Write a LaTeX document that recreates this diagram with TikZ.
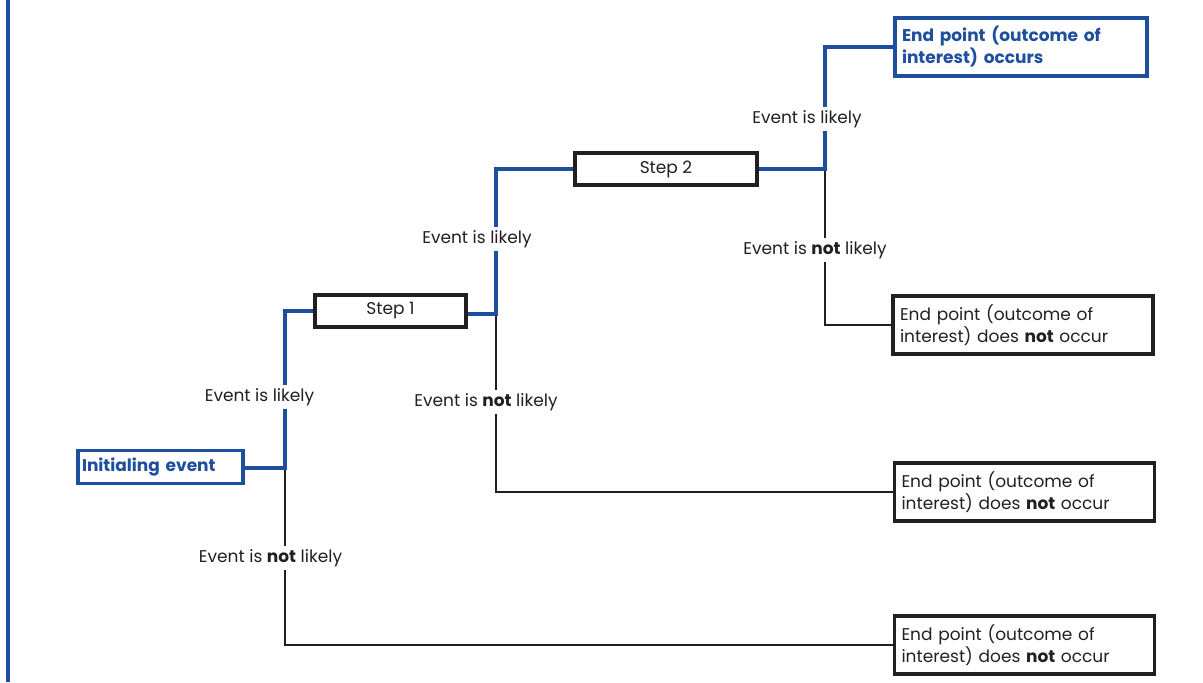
\documentclass[tikz,border=0pt]{standalone}
\usepackage{fontspec}
\setmainfont{Poppins}
\usepackage{tikz}
\definecolor{pathblue}{RGB}{30,78,158}
\definecolor{ink}{RGB}{35,31,32}
\tikzset{
	yesline/.style={pathblue,line width=1.6pt},
	noline/.style={ink,line width=0.55pt},
	stepbox/.style={draw=ink,line width=1.6pt,fill=white,minimum height=16pt,inner sep=0pt,text=ink},
	initbox/.style={draw=pathblue,line width=1.6pt,text=pathblue,font=\bfseries\fontsize{8.5}{10}\selectfont,minimum width=82.5pt,minimum height=16.5pt,inner sep=2pt,text width=78.5pt,align=left},
	endbox/.style={draw=ink,line width=1.6pt,text=ink,text width=123pt,minimum height=29pt,inner sep=3.5pt,align=left},
	endyes/.style={endbox,draw=pathblue,text=pathblue,font=\bfseries\fontsize{8.5}{11}\selectfont,text width=119pt},
	lab/.style={fill=white,text=ink,inner sep=1.5pt}
}

\begin{document}
\begin{tikzpicture}[x=0.5pt,y=-0.5pt,font=\fontsize{8.5}{11}\selectfont]
			\useasboundingbox (0,0) rectangle (1203,682);
			\draw[yesline] (8,0) -- (8,682);
			\node[initbox] (init) at (160.5,467) {Initialing event};
			\node[stepbox,minimum width=75.5pt] (step1) at (390.5,311) {Step 1};
			\node[stepbox,minimum width=91pt] (step2) at (666,169) {Step 2};
			\node[endyes] (endA) at (1021,47) {End point (outcome of\\ interest) occurs};
			\node[endbox] (endB) at (1023,325) {End point (outcome of\\ interest) does \textbf{not} occur};
			\node[endbox] (endC) at (1024.5,492) {End point (outcome of\\ interest) does \textbf{not} occur};
			\node[endbox] (endD) at (1024.5,645) {End point (outcome of\\ interest) does \textbf{not} occur};
			\coordinate (fork0) at (285,468);
			\coordinate (fork1) at (496,314);
			\coordinate (fork2) at (825,169);
			\draw[noline] (fork0) |- (endD.west);
			\draw[noline] (fork1) |- (endC.west);
			\draw[noline] (fork2) |- (endB.west);
			\draw[yesline] (init.east |- fork0) -- (fork0) |- (step1.west);
			\draw[yesline] (step1.east |- fork1) -- (fork1) |- (step2.west);
			\draw[yesline] (step2.east |- fork2) -- (fork2) |- (endA.west);
			\node[lab] (yes0) at (259.5,397) {Event is likely};
			\node[lab] (no0) at (270.5,558) {Event is \textbf{not} likely};
			\node[lab] (yes1) at (477,239) {Event is likely};
			\node[lab] (no1) at (486,402) {Event is \textbf{not} likely};
			\node[lab] (yes2) at (807,119) {Event is likely};
			\node[lab] (no2) at (815,250) {Event is \textbf{not} likely};
			\end{tikzpicture}
\end{document}
